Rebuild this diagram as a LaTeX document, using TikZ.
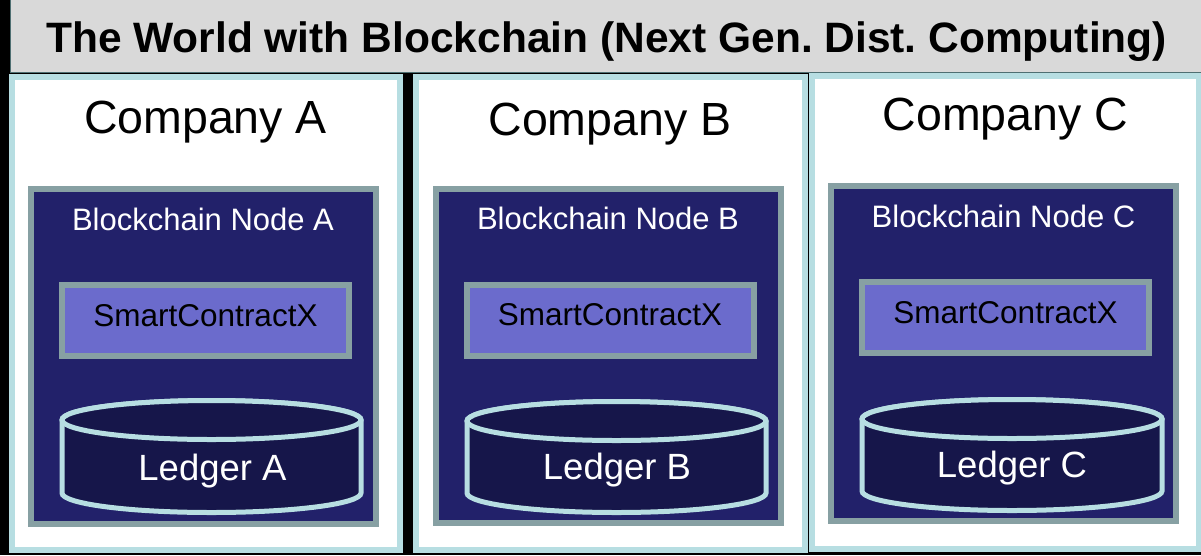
\documentclass[tikz,border=0pt]{standalone}
\usepackage{fontspec}
\setmainfont{Liberation Sans}
\frenchspacing
\definecolor{titlegray}{HTML}{D9D9D9}
\definecolor{titleline}{HTML}{4F6F72}
\definecolor{paleblue}{HTML}{B7DEE2}
\definecolor{slateedge}{HTML}{87A0A3}
\definecolor{nodenavy}{HTML}{22216A}
\definecolor{contractfill}{HTML}{6B6BCC}
\definecolor{drumfill}{HTML}{16164A}

% ledger drum: left x, right x, top-ellipse centre y, bottom-arc centre y (y measured downwards)
\newcommand{\ledgerdrum}[4]{%
  \path[drum] ({#1},{-#3}) -- ({#1},{-#4})
    arc[start angle=180,end angle=360,x radius={(#2-#1)/2},y radius=19.5]
    -- ({#2},{-#3})
    arc[start angle=0,end angle=180,x radius={(#2-#1)/2},y radius=19.5] -- cycle;
  \path[drum] ({(#1+#2)/2},{-#3}) ellipse[x radius={(#2-#1)/2},y radius=19.5];
}

\begin{document}
\begin{tikzpicture}[x=1pt,y=1pt,
  company/.style={draw=paleblue,line width=5.5pt,fill=white,inner sep=0pt},
  chainnode/.style={draw=slateedge,line width=5.5pt,fill=nodenavy,inner sep=0pt},
  contract/.style={draw=slateedge,line width=5.5pt,fill=contractfill,inner sep=0pt,
    minimum width=287pt,minimum height=71pt},
  drum/.style={draw=paleblue,line width=5pt,fill=drumfill},
  titletext/.style={anchor=base,inner sep=0pt,font=\bfseries\fontsize{42.5}{48}\selectfont},
  companytext/.style={anchor=base,inner sep=0pt,font=\fontsize{46.5}{52}\selectfont},
  chaintext/.style={anchor=base,inner sep=0pt,text=white,font=\fontsize{31}{36}\selectfont},
  contracttext/.style={anchor=base,inner sep=0pt,font=\fontsize{31.5}{36}\selectfont},
  ledgertext/.style={anchor=base,inner sep=0pt,text=white,font=\fontsize{36.5}{42}\selectfont}]

  % canvas
  \fill[black] (0,0) rectangle (1201,-555);
  \useasboundingbox (0,0) rectangle (1201,-555);

  % title bar
  \node[fill=titlegray,draw=titleline,line width=1pt,inner sep=0pt,
        minimum width=1200pt,minimum height=73pt] (titlebar) at (610.5,-35.5) {};
  \node[titletext] (title) at (606.5,-52) {The World with Blockchain (Next Gen. Dist. Computing)};

  % companies
  \node[company,minimum width=388pt,minimum height=473pt] (compA) at (206,-313.5) {};
  \node[company,minimum width=389pt,minimum height=473pt] (compB) at (610.5,-313.5) {};
  \node[company,minimum width=387pt,minimum height=473pt] (compC) at (1005.5,-312.5) {};

  \node[companytext] (compAlabel) at (205.5,-133) {Company A};
  \node[companytext] (compBlabel) at (610,-135) {Company B};
  \node[companytext] (compClabel) at (1005.5,-130) {Company C};

  % blockchain nodes
  \node[chainnode,minimum width=345pt,minimum height=335pt] (nodeA) at (203.5,-356.5) {};
  \node[chainnode,minimum width=345pt,minimum height=334pt] (nodeB) at (608.5,-356) {};
  \node[chainnode,minimum width=345pt,minimum height=335pt] (nodeC) at (1003.5,-353.5) {};

  \node[chaintext] (nodeAlabel) at (203,-230) {Blockchain Node A};
  \node[chaintext] (nodeBlabel) at (608,-229) {Blockchain Node B};
  \node[chaintext] (nodeClabel) at (1003.5,-227) {Blockchain Node C};

  % smart contracts
  \node[contract] (scA) at (205.5,-320.5) {};
  \node[contract] (scB) at (610.5,-320.5) {};
  \node[contract] (scC) at (1005.5,-317.5) {};

  \node[contracttext] (scAlabel) at (205.5,-326) {SmartContractX};
  \node[contracttext] (scBlabel) at (610,-325) {SmartContractX};
  \node[contracttext] (scClabel) at (1005.5,-323) {SmartContractX};

  % ledgers
  \ledgerdrum{62}{361}{420}{493}
  \ledgerdrum{467}{766}{421}{493}
  \ledgerdrum{862}{1162}{419}{491}

  \node[ledgertext] (ledA) at (212.5,-480) {Ledger A};
  \node[ledgertext] (ledB) at (617,-479) {Ledger B};
  \node[ledgertext] (ledC) at (1012,-477) {Ledger C};
\end{tikzpicture}
\end{document}
